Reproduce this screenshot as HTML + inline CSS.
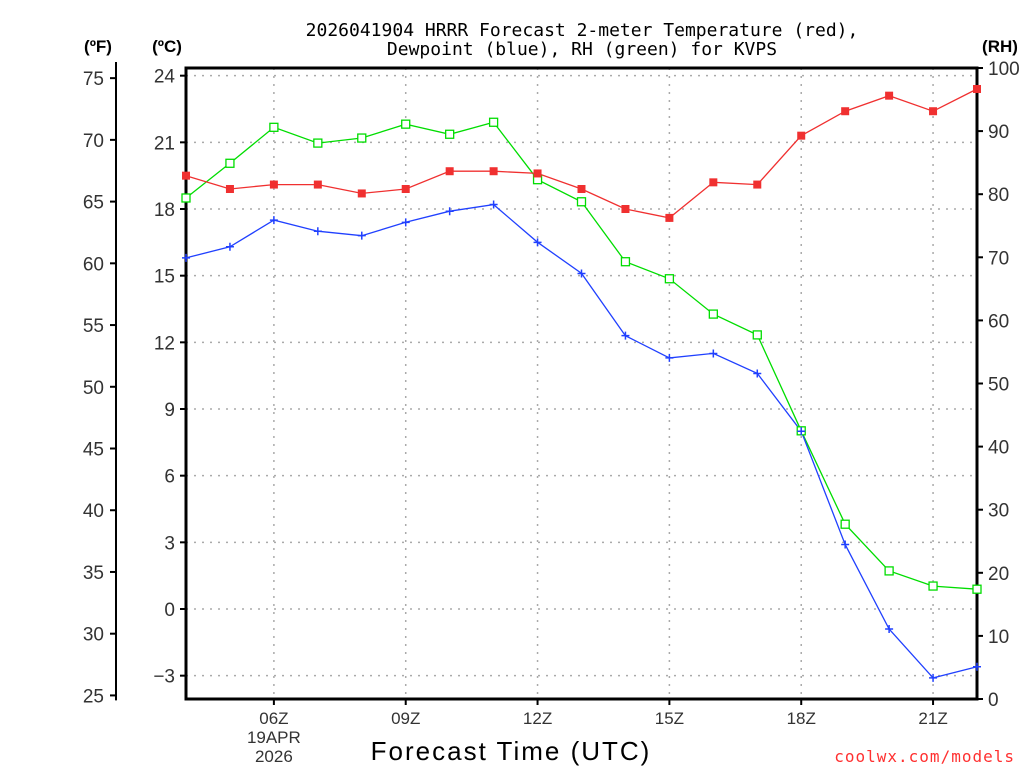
<!DOCTYPE html>
<html><head><meta charset="utf-8"><style>
html,body{margin:0;padding:0;background:#fff;}
svg{display:block;font-family:"Liberation Sans","DejaVu Sans",sans-serif;}
</style></head><body>
<svg id="chart" width="1024" height="768" viewBox="0 0 1024 768">
<text x="582" y="36" font-size="18" text-anchor="middle" fill="#000" font-family="DejaVu Sans Mono, Liberation Mono, monospace">2026041904 HRRR Forecast 2-meter Temperature (red),</text>
<text x="582" y="55" font-size="18" text-anchor="middle" fill="#000" font-family="DejaVu Sans Mono, Liberation Mono, monospace">Dewpoint (blue), RH (green) for KVPS</text>
<text x="98" y="52" font-size="17" font-weight="bold" text-anchor="middle">(ºF)</text>
<text x="167" y="52" font-size="17" font-weight="bold" text-anchor="middle">(ºC)</text>
<text x="1000" y="52" font-size="17" font-weight="bold" text-anchor="middle">(RH)</text>
<text x="511" y="760" font-size="26" text-anchor="middle" letter-spacing="2">Forecast Time (UTC)</text>
<text x="1015" y="762" font-size="16" text-anchor="end" fill="#ff3030" letter-spacing="1" font-family="DejaVu Sans Mono, Liberation Mono, monospace">coolwx.com/models</text>
<g id="grid"></g>
<g id="axes"></g>
<g id="series"></g>
</svg>
<script>
const hours = [4,5,6,7,8,9,10,11,12,13,14,15,16,17,18,19,20,21,22];
const tempC = [19.5,18.9,19.1,19.1,18.7,18.9,19.7,19.7,19.6,18.9,18.0,17.6,19.2,19.1,21.3,22.4,23.1,22.4,23.4];
const dewC = [15.8,16.3,17.5,17.0,16.8,17.4,17.9,18.2,16.5,15.1,12.3,11.3,11.5,10.6,8.0,2.9,-0.9,-3.1,-2.6];
const rh = [79.4,84.9,90.6,88.1,88.9,91.1,89.5,91.4,82.3,78.8,69.3,66.6,61.0,57.7,42.5,27.7,20.3,17.9,17.4];
const cTicks = [-3,0,3,6,9,12,15,18,21,24];
const fTicks = [25,30,35,40,45,50,55,60,65,70,75];
const rhTicks = [0,10,20,30,40,50,60,70,80,90,100];
const xTickHours = [6,9,12,15,18,21];
const xTickLabels = ["06Z","09Z","12Z","15Z","18Z","21Z"];

const L=186,R=977,T=68,B=699;
const xS=h=>L+(h-4)*(R-L)/18;
const yC=c=>609-c*22.222;
const yF=f=>yC((f-32)*5/9);
const yRH=r=>B-r*(B-T)/100;
const NS="http://www.w3.org/2000/svg";
function mk(tag,attrs,parent,txt){const e=document.createElementNS(NS,tag);for(const k in attrs)e.setAttribute(k,attrs[k]);if(txt!==undefined)e.textContent=txt;parent.appendChild(e);return e;}
const grid=document.getElementById('grid'),axes=document.getElementById('axes'),ser=document.getElementById('series');

cTicks.forEach(c=>{const y=yC(c);
 const g=mk('line',{x1:L,x2:R,y1:y,y2:y,stroke:'#aaa','stroke-width':1.5,'stroke-dasharray':'2,6'},grid);
 
 
 mk('line',{x1:L-6,x2:L,y1:y,y2:y,stroke:'#000','stroke-width':2},axes);
 const t=mk('text',{x:L-11,y:y+7,'font-size':19,'text-anchor':'end',fill:'#333'},axes,c<0?'\u2212'+Math.abs(c):c);
 
 
});
xTickHours.forEach((h,i)=>{const x=xS(h);
 const g=mk('line',{x1:x,x2:x,y1:T,y2:B,stroke:'#aaa','stroke-width':1.5,'stroke-dasharray':'2,6'},grid);
 
 
 mk('line',{x1:x,x2:x,y1:B,y2:B+6,stroke:'#000','stroke-width':2},axes);
 const t=mk('text',{x:x,y:B+25,'font-size':17,'text-anchor':'middle',fill:'#333'},axes,xTickLabels[i]);
 
 
});
const d1=mk('text',{x:xS(6),y:B+44,'font-size':17,'text-anchor':'middle',fill:'#333'},axes,'19APR');


const d2=mk('text',{x:xS(6),y:B+63,'font-size':17,'text-anchor':'middle',fill:'#333'},axes,'2026');



mk('line',{x1:116,x2:116,y1:yF(75.5)-10,y2:yF(25)+5,stroke:'#000','stroke-width':2},axes);
fTicks.forEach(f=>{const y=yF(f);
 mk('line',{x1:110,x2:116,y1:y,y2:y,stroke:'#000','stroke-width':2},axes);
 const t=mk('text',{x:104,y:y+7,'font-size':19,'text-anchor':'end',fill:'#333'},axes,f);
 
 
});
rhTicks.forEach(r=>{const y=yRH(r);
 mk('line',{x1:R,x2:R+6,y1:y,y2:y,stroke:'#000','stroke-width':2},axes);
 const t=mk('text',{x:R+11,y:y+7,'font-size':19,'text-anchor':'start',fill:'#333'},axes,r);
 
 
});
const fr=mk('rect',{x:L,y:T,width:R-L,height:B-T,fill:'none',stroke:'#000','stroke-width':3},axes);



function line(vals,yf,color,name){
 const pts=vals.map((v,i)=>xS(hours[i]).toFixed(1)+','+yf(v).toFixed(1)).join(' ');
 const p=mk('polyline',{points:pts,fill:'none',stroke:color,'stroke-width':1.3},ser);
 
 
}
line(rh,yRH,'#00dd00','rh-line');
line(dewC,yC,'#2040ff','dewpoint-line');
line(tempC,yC,'#f03030','temperature-line');
rh.forEach((v,i)=>{const m=mk('rect',{x:xS(hours[i])-4,y:yRH(v)-4,width:8,height:8,fill:'#fff',stroke:'#00dd00','stroke-width':1.3},ser);
 
 });
dewC.forEach((v,i)=>{const x=xS(hours[i]),y=yC(v);
 const m=mk('path',{d:`M${x-4},${y}H${x+4}M${x},${y-4}V${y+4}`,stroke:'#2040ff','stroke-width':1.5},ser);
 
 });
tempC.forEach((v,i)=>{const m=mk('rect',{x:xS(hours[i])-4,y:yC(v)-4,width:8,height:8,fill:'#f03030'},ser);
 
 });
</script>
</body></html>
